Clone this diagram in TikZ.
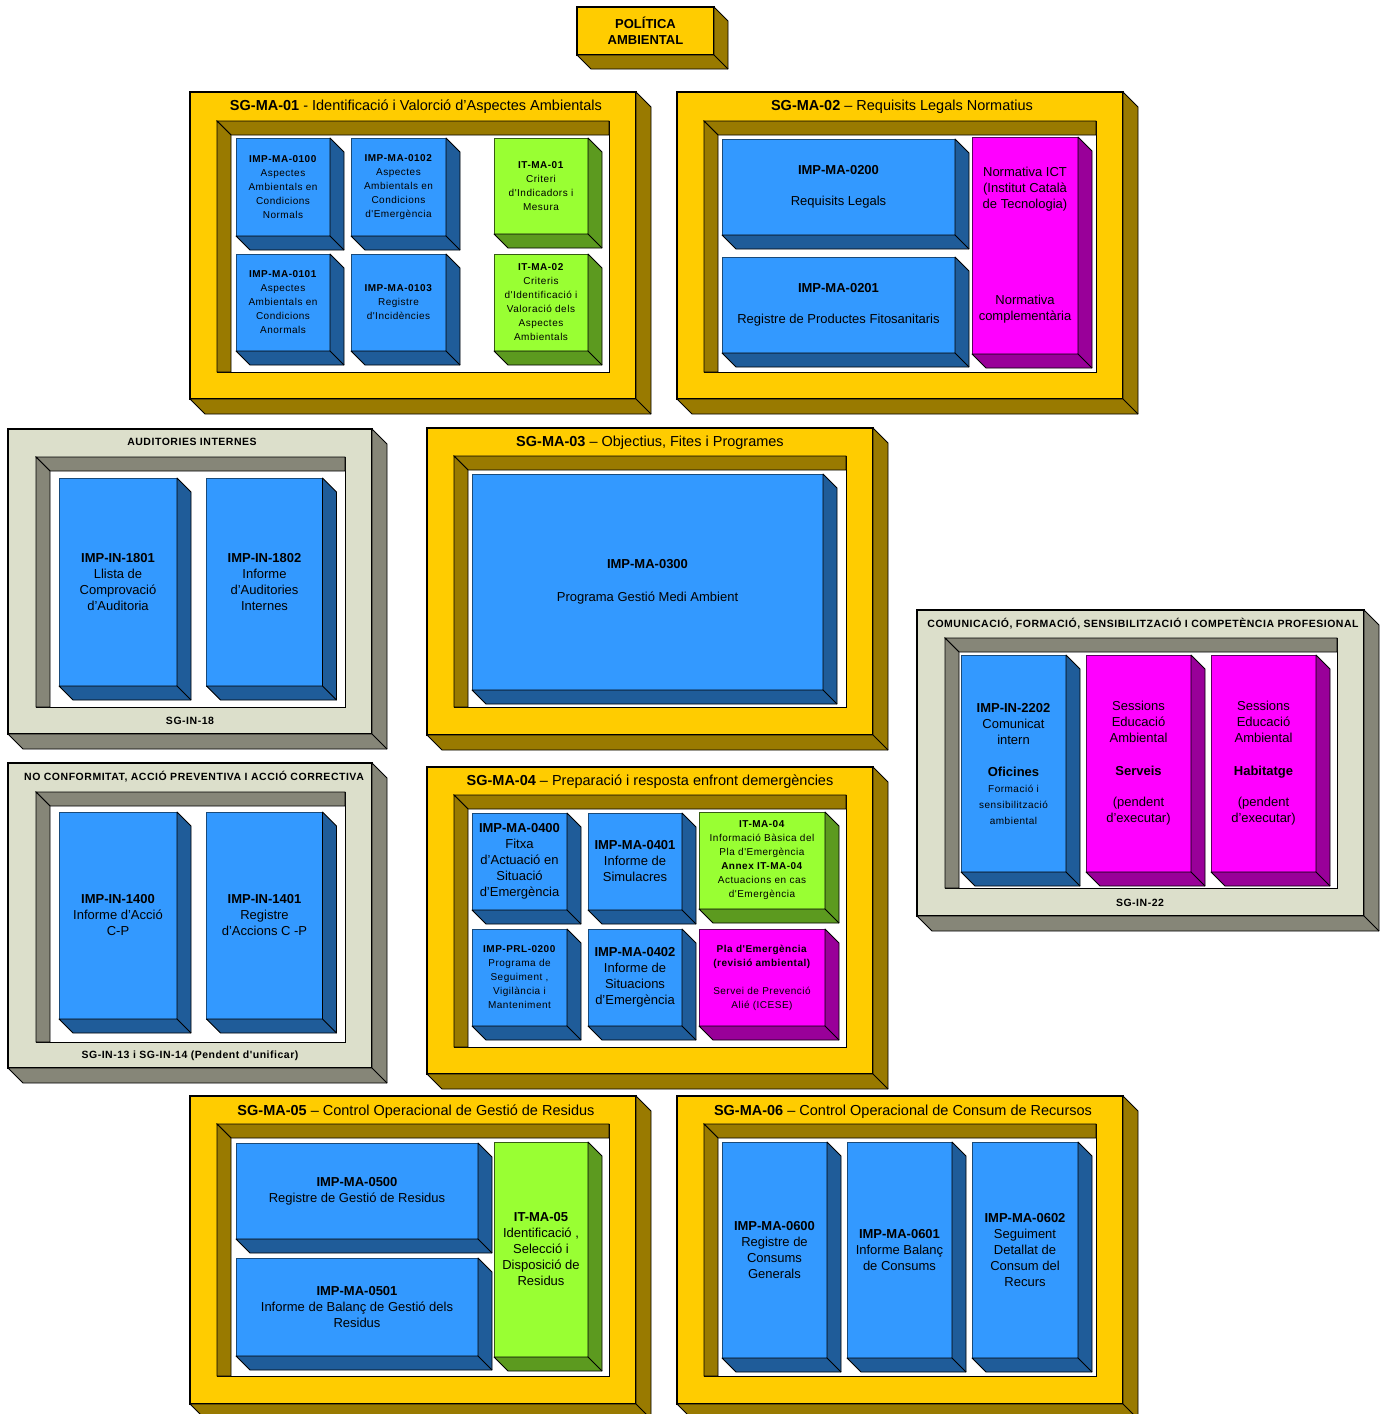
\documentclass[tikz,border=0pt]{standalone}
\usepackage{fontspec}
\setmainfont{Liberation Sans}
\newfontfamily\espaiat[LetterSpace=5]{Liberation Sans}
\usetikzlibrary{calc}

\definecolor{groc}{HTML}{FFCC00}
\definecolor{ocre}{HTML}{997A00}
\definecolor{blau}{HTML}{3399FF}
\definecolor{blaufosc}{HTML}{1F5C99}
\definecolor{verd}{HTML}{99FF33}
\definecolor{verdfosc}{HTML}{5C9A1F}
\definecolor{lila}{HTML}{FF00FF}
\definecolor{lilafosc}{HTML}{990099}
\definecolor{gris}{HTML}{DCDFCB}
\definecolor{grisfosc}{HTML}{868678}

\newcommand{\Relleu}[3]{
    \filldraw[fill=#2, draw=black, line width=0.8pt, line join=round] (#1.north east) -- ++(#3,#3) -- ($(#1.south east)+(#3,#3)$) -- ($(#1.south west)+(#3,#3)$) -- (#1.south west) -- (#1.south east) -- cycle;
    \draw[black, line width=0.8pt] (#1.south east) -- ++(#3,#3);
}
\newcommand{\Forat}[3]{
    \filldraw[fill=#2, draw=black, line width=0.8pt] (#1.north west) -- (#1.north east) -- ++(0,#3) -- ($(#1.north west)+(#3,#3)$) -- cycle;
    \filldraw[fill=#2, draw=black, line width=0.8pt] (#1.north west) -- ($(#1.north west)+(#3,#3)$) -- ($(#1.south west)+(#3,0)$) -- (#1.south west) -- cycle;
}

\tikzset{
    mida/.style 2 args={minimum width=#1, minimum height=#2},
    marc/.style={draw=black, line width=1.2pt, fill=groc, inner sep=0pt, outer sep=0pt},
    marcgris/.style={marc, fill=gris},
    forat/.style={draw=black, line width=1pt, fill=white, inner sep=0pt, outer sep=0pt},
    caixa/.style={draw=blaufosc!80!black, line width=0.8pt, fill=blau, inner sep=0pt, outer sep=0pt, align=center, font=\fontsize{13}{16}\selectfont},
    caixaverda/.style={caixa, draw=verdfosc!60!black, fill=verd},
    caixalila/.style={caixa, draw=lilafosc!60!black, fill=lila},
    petit/.style={font=\espaiat\fontsize{10}{14}\selectfont},
    titol/.style={font=\fontsize{14.5}{17}\selectfont, inner sep=0pt},
    titolgris/.style={font=\espaiat\fontsize{10.5}{12}\selectfont\bfseries, inner sep=0pt},
}

\begin{document}
\begin{tikzpicture}[x=1pt, y=-1pt]
    \useasboundingbox (0,0) rectangle (1386,1414);
    \fill[white] (0,0) rectangle (1386,1414);

    \node[marc, mida={137}{48}, align=center, font=\fontsize{13}{16}\selectfont\bfseries] (pol) at (645.5,31) {POLÍTICA\\AMBIENTAL};
    \Relleu{pol}{ocre}{14}

    \node[marc, mida={446}{307}] (f01) at (413,245.5) {};
    \Relleu{f01}{ocre}{15}
    \node[forat, mida={392}{251}] (h01) at (413,246.5) {};
    \Forat{h01}{ocre}{14}
    \node[titol] (t01) at (416,107) {\textbf{SG-MA-01} - Identificació i Valorció d'Aspectes Ambientals};
    \node[caixa, petit, mida={94}{98}] (b0100) at (283,187) {\textbf{IMP-MA-0100}\\Aspectes\\Ambientals en\\Condicions\\Normals};
    \node[caixa, petit, mida={95}{98}] (b0102) at (398.5,187) {\textbf{IMP-MA-0102}\\Aspectes\\Ambientals en\\Condicions\\d'Emergència};
    \node[caixaverda, petit, mida={94}{96}] (it01) at (541,186) {\textbf{IT-MA-01}\\Criteri\\d'Indicadors i\\Mesura};
    \node[caixa, petit, mida={94}{97}] (b0101) at (283,302.5) {\textbf{IMP-MA-0101}\\Aspectes\\Ambientals en\\Condicions\\Anormals};
    \node[caixa, petit, mida={95}{97}] (b0103) at (398.5,302.5) {\textbf{IMP-MA-0103}\\Registre\\d'Incidències};
    \node[caixaverda, petit, mida={94}{97}] (it02) at (541,302.5) {\textbf{IT-MA-02}\\Criteris\\d'Identificació i\\Valoració dels\\Aspectes\\Ambientals};
    \Relleu{b0100}{blaufosc}{14}
    \Relleu{b0102}{blaufosc}{14}
    \Relleu{it01}{verdfosc}{14}
    \Relleu{b0101}{blaufosc}{14}
    \Relleu{b0103}{blaufosc}{14}
    \Relleu{it02}{verdfosc}{14}

    \node[marc, mida={446}{307}] (f02) at (900,245.5) {};
    \Relleu{f02}{ocre}{15}
    \node[forat, mida={392}{251}] (h02) at (900,246.5) {};
    \Forat{h02}{ocre}{14}
    \node[titol] (t02) at (902,107) {\textbf{SG-MA-02} – Requisits Legals Normatius};
    \node[caixa, mida={233}{96}] (b0200) at (838.5,187) {\textbf{IMP-MA-0200}\\[15pt]Requisits Legals};
    \node[caixa, mida={233}{96}] (b0201) at (838.5,305) {\textbf{IMP-MA-0201}\\[15pt]Registre de Productes Fitosanitaris};
    \node[caixalila, mida={106}{217}] (norm) at (1025,245.5) {Normativa ICT\\(Institut Català\\de Tecnologia)\\[80pt]Normativa\\complementària};
    \Relleu{b0200}{blaufosc}{14}
    \Relleu{b0201}{blaufosc}{14}
    \Relleu{norm}{lilafosc}{14}

    \node[marcgris, mida={364}{305}] (g18) at (190,581.5) {};
    \Relleu{g18}{grisfosc}{15}
    \node[forat, mida={309}{250}] (h18) at (190.5,582) {};
    \Forat{h18}{grisfosc}{14}
    \node[titolgris] (t18) at (192,442) {AUDITORIES INTERNES};
    \node[titolgris] (p18) at (190,721) {SG-IN-18};
    \node[caixa, mida={118}{208}] (b1801) at (118,582) {\textbf{IMP-IN-1801}\\Llista de\\Comprovació\\d'Auditoria};
    \node[caixa, mida={116}{208}] (b1802) at (264.5,582) {\textbf{IMP-IN-1802}\\Informe\\d'Auditories\\Internes};
    \Relleu{b1801}{blaufosc}{14}
    \Relleu{b1802}{blaufosc}{14}

    \node[marc, mida={446}{307}] (f03) at (650,581.5) {};
    \Relleu{f03}{ocre}{15}
    \node[forat, mida={392}{251}] (h03) at (650,581.5) {};
    \Forat{h03}{ocre}{14}
    \node[titol] (t03) at (650,443) {\textbf{SG-MA-03} – Objectius, Fites i Programes};
    \node[caixa, mida={351}{216}] (b0300) at (647.5,582) {\textbf{IMP-MA-0300}\\[17pt]Programa Gestió Medi Ambient};
    \Relleu{b0300}{blaufosc}{14}

    \node[marcgris, mida={447}{306}] (g22) at (1140.5,763) {};
    \Relleu{g22}{grisfosc}{15}
    \node[forat, mida={392}{250}] (h22) at (1141,763) {};
    \Forat{h22}{grisfosc}{14}
    \node[titolgris] (t22) at (1143,624) {COMUNICACIÓ, FORMACIÓ, SENSIBILITZACIÓ I COMPETÈNCIA PROFESIONAL};
    \node[titolgris] (p22) at (1140,903) {SG-IN-22};
    \node[caixa, mida={105}{217}] (b2202) at (1013.5,763.5) {\textbf{IMP-IN-2202}\\Comunicat\\intern\\[16pt]\textbf{Oficines}\\{\espaiat\fontsize{10}{14}\selectfont Formació i}\\{\espaiat\fontsize{10}{14}\selectfont sensibilització}\\{\espaiat\fontsize{10}{14}\selectfont ambiental}};
    \node[caixalila, mida={105}{217}] (serv) at (1138.5,763.5) {Sessions\\Educació\\Ambiental\\[17pt]\textbf{Serveis}\\[15pt](pendent\\d'executar)};
    \node[caixalila, mida={105}{217}] (habit) at (1263.5,763.5) {Sessions\\Educació\\Ambiental\\[17pt]\textbf{Habitatge}\\[15pt](pendent\\d'executar)};
    \Relleu{b2202}{blaufosc}{14}
    \Relleu{serv}{lilafosc}{14}
    \Relleu{habit}{lilafosc}{14}

    \node[marcgris, mida={364}{305}] (g14) at (190,915.5) {};
    \Relleu{g14}{grisfosc}{15}
    \node[forat, mida={309}{250}] (h14) at (190.5,917) {};
    \Forat{h14}{grisfosc}{14}
    \node[titolgris] (t14) at (194,777) {NO CONFORMITAT, ACCIÓ PREVENTIVA I ACCIÓ CORRECTIVA};
    \node[titolgris] (p14) at (190,1056) {SG-IN-13 i SG-IN-14 (Pendent d'unificar)};
    \node[caixa, mida={118}{207}] (b1400) at (118,915.5) {\textbf{IMP-IN-1400}\\Informe d'Acció\\C-P};
    \node[caixa, mida={116}{207}] (b1401) at (264.5,915.5) {\textbf{IMP-IN-1401}\\Registre\\d'Accions C -P};
    \Relleu{b1400}{blaufosc}{14}
    \Relleu{b1401}{blaufosc}{14}

    \node[marc, mida={446}{307}] (f04) at (650,920.5) {};
    \Relleu{f04}{ocre}{15}
    \node[forat, mida={392}{252}] (h04) at (650,921) {};
    \Forat{h04}{ocre}{14}
    \node[titol] (t04) at (650,782) {\textbf{SG-MA-04} – Preparació i resposta enfront demergències};
    \node[caixa, mida={95}{97}] (b0400) at (519.5,861.5) {\textbf{IMP-MA-0400}\\Fitxa\\d'Actuació en\\Situació\\d'Emergència};
    \node[caixa, mida={94}{97}] (b0401) at (635,861.5) {\textbf{IMP-MA-0401}\\Informe de\\Simulacres};
    \node[caixaverda, petit, mida={126}{97}] (it04) at (762,860.5) {\textbf{IT-MA-04}\\Informació Bàsica del\\Pla d'Emergència\\\textbf{Annex IT-MA-04}\\Actuacions en cas\\d'Emergència};
    \node[caixa, petit, mida={95}{97}] (bprl) at (519.5,977.5) {\textbf{IMP-PRL-0200}\\Programa de\\Seguiment ,\\Vigilància i\\Manteniment};
    \node[caixa, mida={94}{97}] (b0402) at (635,977.5) {\textbf{IMP-MA-0402}\\Informe de\\Situacions\\d'Emergència};
    \node[caixalila, petit, mida={126}{97}] (pla) at (762,977.5) {\textbf{Pla d'Emergència}\\\textbf{(revisió ambiental)}\\[14pt]Servei de Prevenció\\Alié (ICESE)};
    \Relleu{b0400}{blaufosc}{14}
    \Relleu{b0401}{blaufosc}{14}
    \Relleu{it04}{verdfosc}{14}
    \Relleu{bprl}{blaufosc}{14}
    \Relleu{b0402}{blaufosc}{14}
    \Relleu{pla}{lilafosc}{14}

    \node[marc, mida={446}{308}] (f05) at (413,1250) {};
    \Relleu{f05}{ocre}{15}
    \node[forat, mida={392}{252}] (h05) at (413,1250) {};
    \Forat{h05}{ocre}{14}
    \node[titol] (t05) at (416,1112) {\textbf{SG-MA-05} – Control Operacional de Gestió de Residus};
    \node[caixa, mida={242}{96}] (b0500) at (357,1191) {\textbf{IMP-MA-0500}\\Registre de Gestió de Residus};
    \node[caixa, mida={242}{98}] (b0501) at (357,1307) {\textbf{IMP-MA-0501}\\Informe de Balanç de Gestió dels\\Residus};
    \node[caixaverda, mida={94}{215}] (it05) at (541,1249.5) {\textbf{IT-MA-05}\\Identificació ,\\Selecció i\\Disposició de\\Residus};
    \Relleu{b0500}{blaufosc}{14}
    \Relleu{b0501}{blaufosc}{14}
    \Relleu{it05}{verdfosc}{14}

    \node[marc, mida={446}{308}] (f06) at (900,1250) {};
    \Relleu{f06}{ocre}{15}
    \node[forat, mida={392}{252}] (h06) at (900,1250) {};
    \Forat{h06}{ocre}{14}
    \node[titol] (t06) at (903,1112) {\textbf{SG-MA-06} – Control Operacional de Consum de Recursos};
    \node[caixa, mida={105}{216}] (b0600) at (774.5,1250) {\textbf{IMP-MA-0600}\\Registre de\\Consums\\Generals};
    \node[caixa, mida={105}{216}] (b0601) at (899.5,1250) {\textbf{IMP-MA-0601}\\Informe Balanç\\de Consums};
    \node[caixa, mida={106}{216}] (b0602) at (1025,1250) {\textbf{IMP-MA-0602}\\Seguiment\\Detallat de\\Consum del\\Recurs};
    \Relleu{b0600}{blaufosc}{14}
    \Relleu{b0601}{blaufosc}{14}
    \Relleu{b0602}{blaufosc}{14}
\end{tikzpicture}
\end{document}
